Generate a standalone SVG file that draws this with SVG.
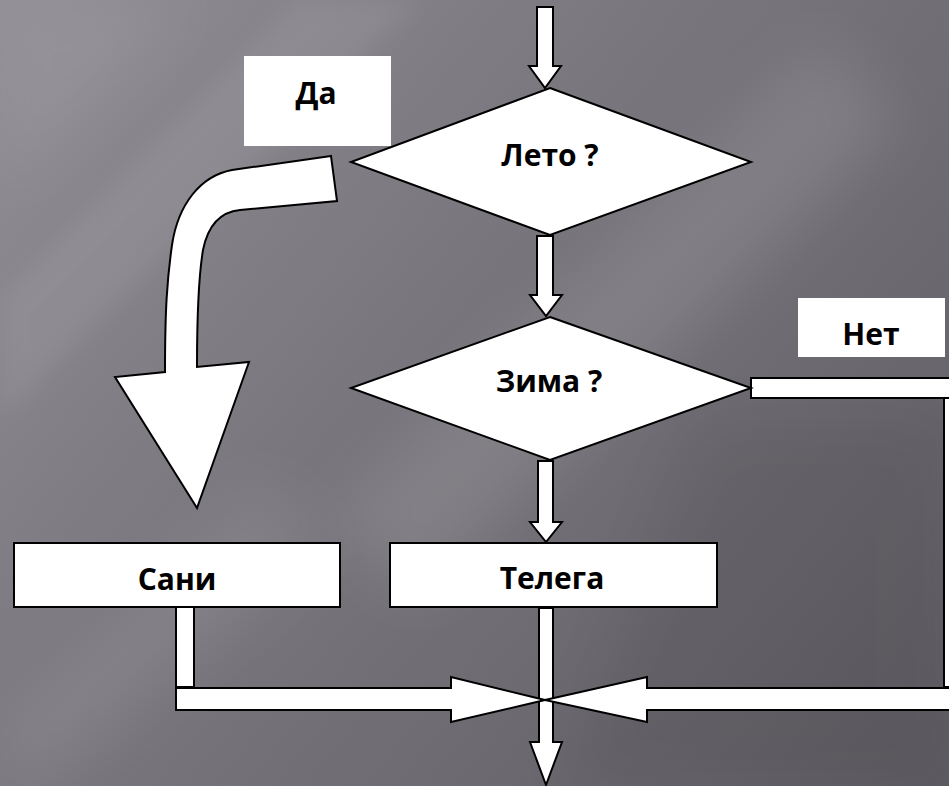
<svg xmlns="http://www.w3.org/2000/svg" width="949" height="786" viewBox="0 0 949 786">
  <defs>
    <linearGradient id="bg" x1="0" y1="0" x2="949" y2="786" gradientUnits="userSpaceOnUse">
      <stop offset="0" stop-color="#918e96"/>
      <stop offset="0.4" stop-color="#7a777e"/>
      <stop offset="1" stop-color="#5e5b62"/>
    </linearGradient>
    <filter id="blur" x="-50%" y="-50%" width="200%" height="200%">
      <feGaussianBlur stdDeviation="30"/>
    </filter>
    <filter id="blur2" x="-50%" y="-50%" width="200%" height="200%">
      <feGaussianBlur stdDeviation="12"/>
    </filter>
    <style>
      .shape { fill: #ffffff; stroke: #000000; stroke-width: 2; stroke-linejoin: miter; }
      .label { fill: #ffffff; stroke: none; }
      .txt { font-family: "Open Sans", "Noto Sans", "DejaVu Sans", sans-serif; font-weight: 700; font-size: 30px; fill: #000000; text-anchor: middle; }
    </style>
  </defs>

  <!-- background -->
  <rect x="0" y="0" width="949" height="786" fill="url(#bg)"/>
  <g opacity="1">
    <polygon points="300,0 420,0 0,420 0,300" fill="#ffffff" opacity="0.07" filter="url(#blur2)"/>
    <polygon points="0,0 200,0 0,200" fill="#ffffff" opacity="0.06" filter="url(#blur)"/>
    <polygon points="820,40 900,120 420,600 330,520" fill="#ffffff" opacity="0.10" filter="url(#blur)"/>
    <polygon points="260,480 330,540 40,786 0,786 0,720" fill="#ffffff" opacity="0.08" filter="url(#blur)"/>
    <polygon points="700,420 949,420 949,786 560,786" fill="#000000" opacity="0.06" filter="url(#blur)"/>
  </g>

  <!-- connectors -->
  <g id="connectors">
    <!-- top entry arrow -->
    <polygon class="shape" points="537,7 553,7 553,66 561,66 545,88 529,66 537,66"/>
    <!-- Лето -> Зима -->
    <polygon class="shape" points="537,236 553,236 553,295 562,295 546,316 530,295 537,295"/>
    <!-- Зима -> Телега -->
    <polygon class="shape" points="538,461 553,461 553,522 562,522 546,542 530,522 538,522"/>
    <!-- Да curved arrow -->
    <path class="shape" d="M331,156 L232,170 C200,176 178,205 172,245 C167,280 165,310 165,372 L115,377 L197,508 L249,362 L197,367 C197,320 198,280 203,250 C208,225 220,212 240,210 L337,201 Z"/>
    <!-- Телега -> exit -->
    <polygon class="shape" points="539,608 553,608 553,742 562,742 546,785 530,742 539,742"/>
    <!-- Сани -> merge -->
    <rect class="shape" x="176" y="607" width="18" height="80"/>
    <polygon class="shape" points="176,688 451,688 451,677 545,700 451,722 451,710 176,710"/>
    <!-- Нет -> merge -->
    <rect class="shape" x="751" y="378" width="210" height="20"/>
    <rect class="shape" x="944" y="398" width="20" height="289"/>
    <polygon class="shape" points="960,688 647,688 647,677 545,700 647,722 647,710 960,710"/>
  </g>

  <!-- nodes -->
  <g id="node-leto">
    <polygon class="shape" points="550,88 751,162 550,235 351,162"/>
    <text class="txt" x="550" y="166">Лето ?</text>
  </g>
  <g id="node-zima">
    <polygon class="shape" points="550,317 751,388 550,460 351,388"/>
    <text class="txt" x="549" y="392">Зима ?</text>
  </g>
  <g id="node-sani">
    <rect class="shape" x="14" y="543" width="326" height="64"/>
    <text class="txt" x="177" y="590">Сани</text>
  </g>
  <g id="node-telega">
    <rect class="shape" x="390" y="543" width="327" height="64"/>
    <text class="txt" x="552" y="589">Телега</text>
  </g>
  <g id="label-da">
    <rect class="label" x="244" y="56" width="147" height="90"/>
    <text class="txt" x="316" y="104">Да</text>
  </g>
  <g id="label-net">
    <rect class="label" x="798" y="298" width="147" height="59"/>
    <text class="txt" x="871" y="345">Нет</text>
  </g>
</svg>
